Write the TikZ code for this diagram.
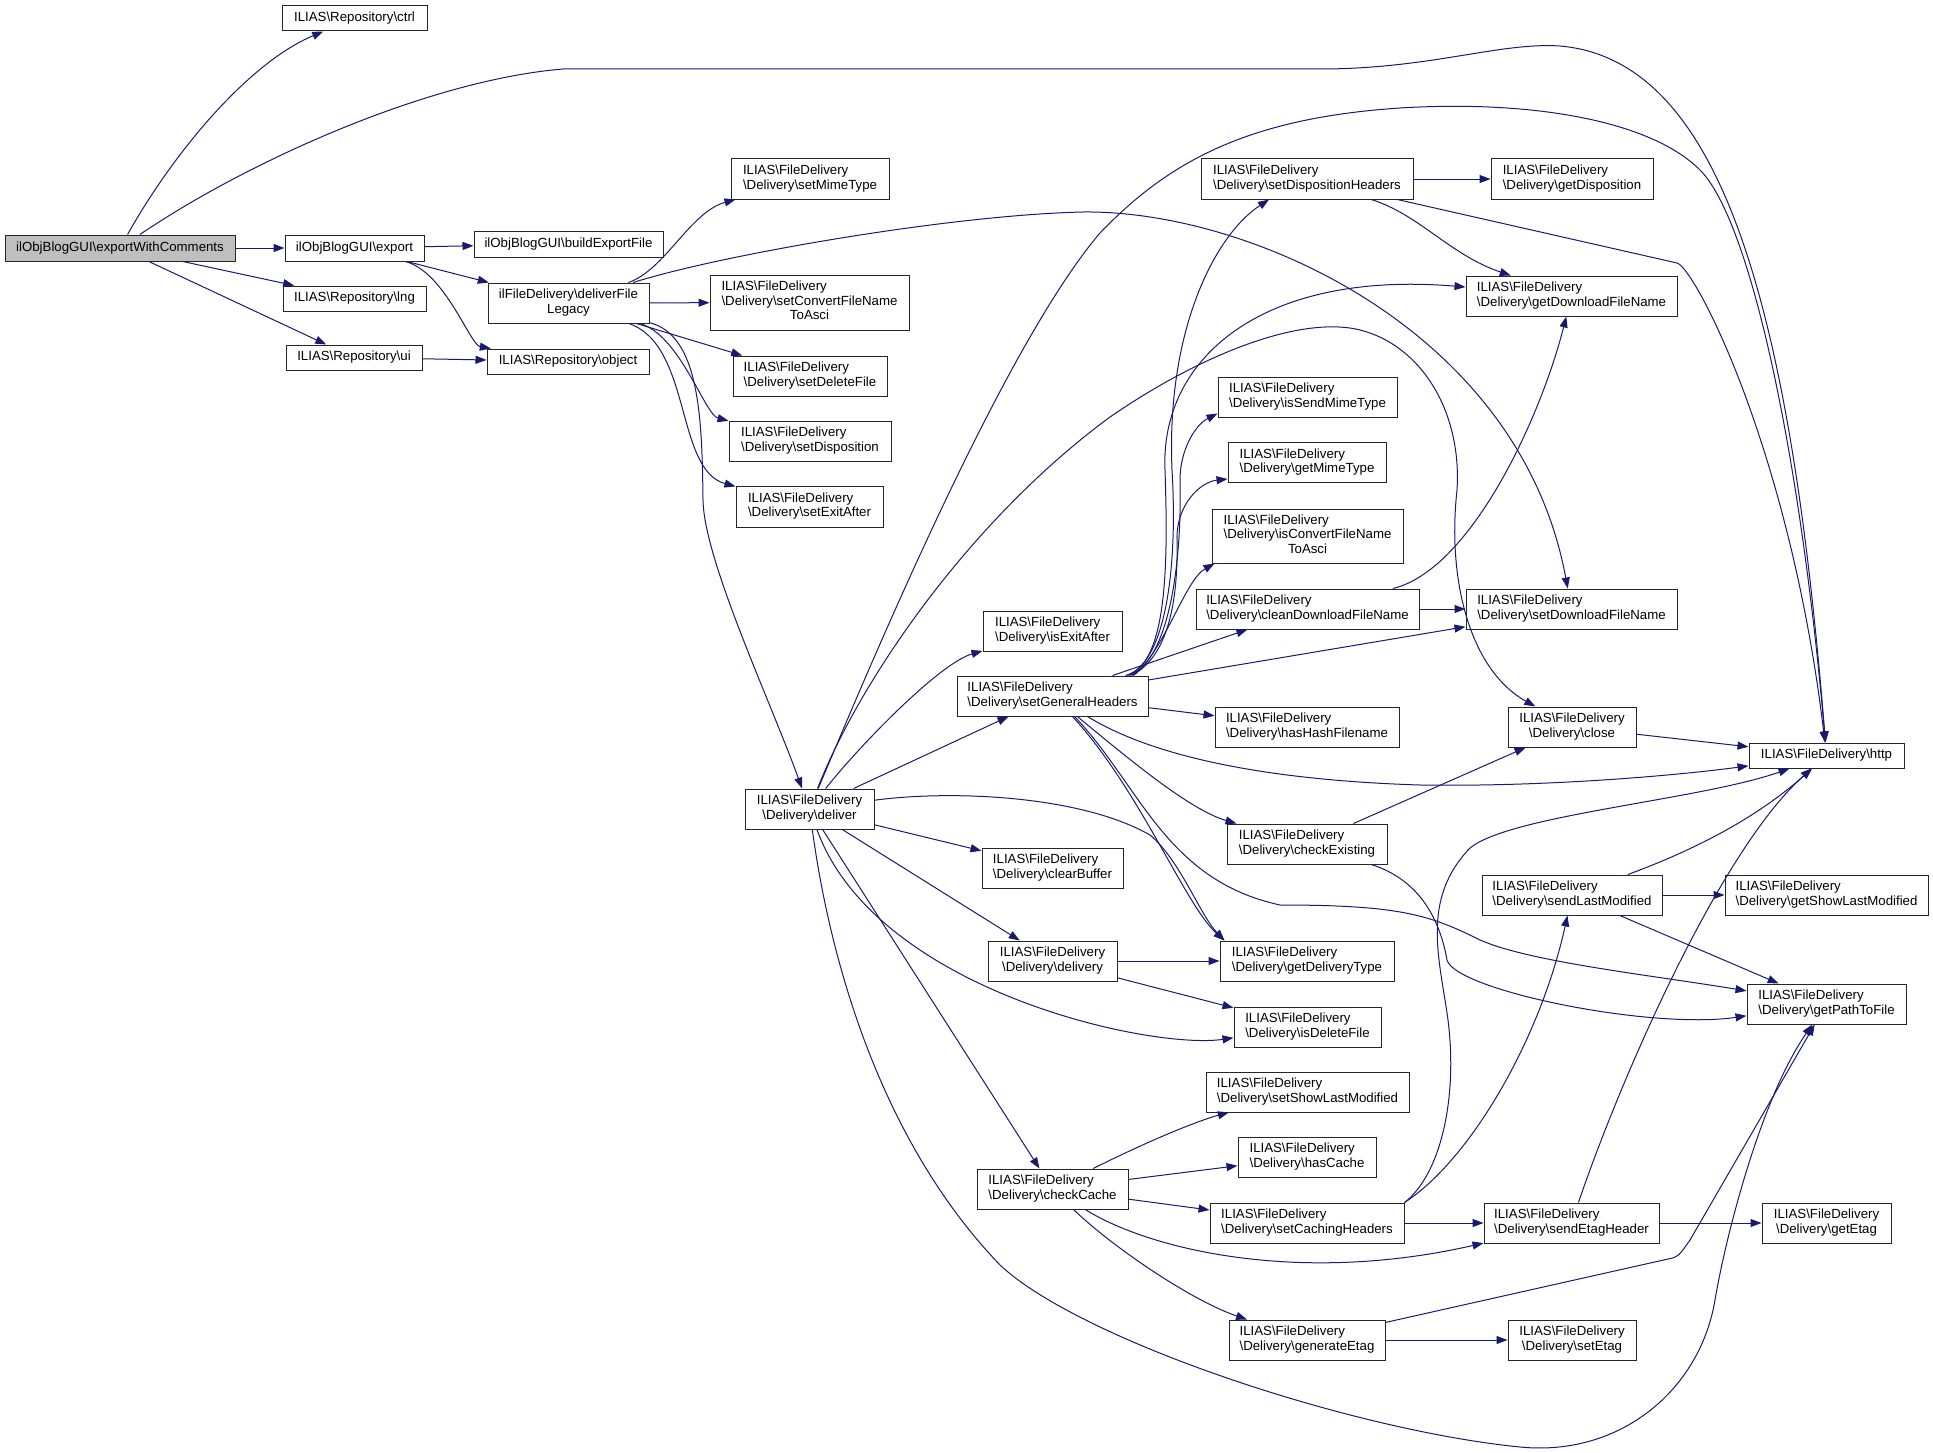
\documentclass[tikz,border=0pt]{standalone}
\usepackage{fontspec}
\newfontfamily\dxfont{Liberation Sans}
\usetikzlibrary{arrows.meta}
\definecolor{edgeblue}{HTML}{191970}
\definecolor{rootgray}{HTML}{BFBFBF}
\newcommand{\dxbs}{\textbackslash}
\newcommand{\fdlabel}[1]{\begin{tabular}{@{}l@{}}ILIAS\dxbs FileDelivery\\\multicolumn{1}{@{}c@{}}{\dxbs Delivery\dxbs #1}\end{tabular}}
\begin{document}
\begin{tikzpicture}[x=1pt, y=-1pt,
    fn/.style={draw=black!85, line width=1pt, fill=white, inner sep=0pt,
        font=\dxfont\fontsize{13.25}{14.5}\selectfont},
    sz/.style 2 args={minimum width=#1, minimum height=#2},
    callarrow/.style={draw=edgeblue, line width=1pt, -{Triangle[length=11pt,width=8pt]}}]
    \useasboundingbox (0,0) rectangle (1933,1453);
    \node[fn, fill=rootgray, sz={230}{26}] (exportwc) at (120,248) {ilObjBlogGUI\dxbs exportWithComments};
    \node[fn, sz={145}{25}] (ctrl) at (354.5,18.5) {ILIAS\dxbs Repository\dxbs ctrl};
    \node[fn, sz={139}{26}] (export) at (354.5,248) {ilObjBlogGUI\dxbs export};
    \node[fn, sz={143}{25}] (lng) at (354.5,298.5) {ILIAS\dxbs Repository\dxbs lng};
    \node[fn, sz={136}{25}] (ui) at (354,357.5) {ILIAS\dxbs Repository\dxbs ui};
    \node[fn, sz={189}{26}] (buildexp) at (568.5,244) {ilObjBlogGUI\dxbs buildExportFile};
    \node[fn, sz={161}{40}] (legacy) at (568.5,303) {\begin{tabular}{@{}l@{}}ilFileDelivery\dxbs deliverFile\\\multicolumn{1}{@{}c@{}}{Legacy}\end{tabular}};
    \node[fn, sz={162}{25}] (object) at (568,361.5) {ILIAS\dxbs Repository\dxbs object};
    \node[fn, sz={158}{40}] (setmime) at (810,179) {\fdlabel{setMimeType}};
    \node[fn, sz={199}{55}] (setconv) at (809.5,302.5) {\begin{tabular}{@{}l@{}}ILIAS\dxbs FileDelivery\\\dxbs Delivery\dxbs setConvertFileName\\\multicolumn{1}{@{}c@{}}{ToAsci}\end{tabular}};
    \node[fn, sz={154}{40}] (setdel) at (810,376) {\fdlabel{setDeleteFile}};
    \node[fn, sz={162}{40}] (setdisp) at (810,441) {\fdlabel{setDisposition}};
    \node[fn, sz={147}{41}] (setexit) at (809.5,506.5) {\fdlabel{setExitAfter}};
    \node[fn, sz={129}{40}] (deliver) at (809.5,809) {\fdlabel{deliver}};
    \node[fn, sz={139}{40}] (isexit) at (1052.5,631) {\fdlabel{isExitAfter}};
    \node[fn, sz={191}{40}] (setgen) at (1052.5,696) {\fdlabel{setGeneralHeaders}};
    \node[fn, sz={141}{40}] (clearbuf) at (1052.5,868) {\fdlabel{clearBuffer}};
    \node[fn, sz={129}{40}] (delivery) at (1052.5,961) {\fdlabel{delivery}};
    \node[fn, sz={151}{40}] (checkcache) at (1052.5,1189) {\fdlabel{checkCache}};
    \node[fn, sz={212}{40}] (setdisph) at (1307,179) {\fdlabel{setDispositionHeaders}};
    \node[fn, sz={179}{40}] (issendmime) at (1307.5,397) {\fdlabel{isSendMimeType}};
    \node[fn, sz={158}{40}] (getmime) at (1307,462.5) {\fdlabel{getMimeType}};
    \node[fn, sz={191}{54}] (isconv) at (1307.5,536) {\begin{tabular}{@{}l@{}}ILIAS\dxbs FileDelivery\\\dxbs Delivery\dxbs isConvertFileName\\\multicolumn{1}{@{}c@{}}{ToAsci}\end{tabular}};
    \node[fn, sz={223}{40}] (cleandl) at (1307.5,609) {\fdlabel{cleanDownloadFileName}};
    \node[fn, sz={184}{40}] (hashash) at (1307,727) {\fdlabel{hasHashFilename}};
    \node[fn, sz={160}{40}] (checkex) at (1307,844) {\fdlabel{checkExisting}};
    \node[fn, sz={174}{40}] (getdeltype) at (1307,961) {\fdlabel{getDeliveryType}};
    \node[fn, sz={147}{40}] (isdel) at (1307.5,1027) {\fdlabel{isDeleteFile}};
    \node[fn, sz={203}{40}] (setshowlm) at (1307.5,1092) {\fdlabel{setShowLastModified}};
    \node[fn, sz={138}{40}] (hascache) at (1307,1157) {\fdlabel{hasCache}};
    \node[fn, sz={194}{40}] (setcaching) at (1307,1223) {\fdlabel{setCachingHeaders}};
    \node[fn, sz={156}{40}] (genetag) at (1307,1340) {\fdlabel{generateEtag}};
    \node[fn, sz={162}{40}] (getdisp) at (1572,179) {\fdlabel{getDisposition}};
    \node[fn, sz={211}{40}] (getdlname) at (1571.5,296) {\fdlabel{getDownloadFileName}};
    \node[fn, sz={211}{40}] (setdlname) at (1571.5,609) {\fdlabel{setDownloadFileName}};
    \node[fn, sz={128}{40}] (close) at (1572,727) {\fdlabel{close}};
    \node[fn, sz={180}{40}] (sendlm) at (1572,895) {\fdlabel{sendLastModified}};
    \node[fn, sz={175}{40}] (sendetag) at (1571.5,1223) {\fdlabel{sendEtagHeader}};
    \node[fn, sz={128}{40}] (setetag) at (1572,1340) {\fdlabel{setEtag}};
    \node[fn, sz={155}{25}] (http) at (1826.5,755.5) {ILIAS\dxbs FileDelivery\dxbs http};
    \node[fn, sz={203}{40}] (getshowlm) at (1826.5,895) {\fdlabel{getShowLastModified}};
    \node[fn, sz={159}{40}] (getpath) at (1826.5,1004) {\fdlabel{getPathToFile}};
    \node[fn, sz={129}{40}] (getetag) at (1826.5,1223) {\fdlabel{getEtag}};

    \draw[callarrow] (exportwc) .. controls (175,150) and (250,62) .. (ctrl);
    \draw[callarrow] (exportwc) .. controls (250,160) and (430,80) .. (563,69) -- (1320,69)
        .. controls (1430,69) and (1500,42) .. (1560,46) .. controls (1720,60) and (1790,300) .. (http);
    \draw[callarrow] (exportwc) -- (export);
    \draw[callarrow] (exportwc) -- (lng);
    \draw[callarrow] (exportwc) -- (ui);
    \draw[callarrow] (export) -- (buildexp);
    \draw[callarrow] (export) -- (legacy);
    \draw[callarrow] (export) .. controls (445,272) and (470,345) .. (object);
    \draw[callarrow] (ui) -- (object);

    \draw[callarrow] (legacy) .. controls (665,270) and (690,212) .. (setmime);
    \draw[callarrow] (legacy) .. controls (720,255) and (950,215) .. (1083,212)
        .. controls (1250,210) and (1520,330) .. (setdlname);
    \draw[callarrow] (legacy) -- (setconv);
    \draw[callarrow] (legacy) -- (setdel);
    \draw[callarrow] (legacy) .. controls (680,335) and (705,415) .. (setdisp);
    \draw[callarrow] (legacy) .. controls (692,345) and (675,470) .. (setexit);
    \draw[callarrow] (legacy) .. controls (700,335) and (702,420) .. (703,500)
        .. controls (704,560) and (770,700) .. (deliver);

    \draw[callarrow] (deliver) .. controls (860,690) and (1000,350) .. (1100,233)
        .. controls (1170,160) and (1250,118) .. (1400,108) .. controls (1530,100) and (1650,120) .. (1700,170)
        .. controls (1750,220) and (1800,450) .. (http);
    \draw[callarrow] (deliver) .. controls (860,680) and (970,520) .. (1110,417)
        .. controls (1200,355) and (1300,315) .. (1360,330) .. controls (1420,345) and (1462,410) .. (1457,490)
        .. controls (1447,580) and (1470,670) .. (close);
    \draw[callarrow] (deliver) .. controls (860,745) and (940,663) .. (isexit);
    \draw[callarrow] (deliver) -- (setgen);
    \draw[callarrow] (deliver) .. controls (950,790) and (1080,795) .. (1150,835)
        .. controls (1180,860) and (1200,915) .. ([xshift=5]getdeltype.north west);
    \draw[callarrow] (deliver) -- (clearbuf);
    \draw[callarrow] (deliver) -- (delivery);
    \draw[callarrow] (deliver) .. controls (875,990) and (1150,1050) .. (isdel);
    \draw[callarrow] (deliver) -- (checkcache);
    \draw[callarrow] (deliver) .. controls (830,960) and (880,1140) .. (1000,1265)
        .. controls (1080,1340) and (1350,1430) .. (1520,1447) .. controls (1620,1457) and (1700,1390) .. (1715,1300)
        .. controls (1725,1240) and (1760,1100) .. (getpath);

    \draw[callarrow] ([xshift=73]setgen.north) .. controls (1165,665) and (1178,570) .. (1172,470)
        .. controls (1166,330) and (1215,235) .. ([xshift=-38]setdisph.south);
    \draw[callarrow] ([xshift=75]setgen.north) .. controls (1168,662) and (1168,560) .. (1165,470)
        .. controls (1160,360) and (1260,270) .. ([yshift=9]getdlname.west);
    \draw[callarrow] ([xshift=77]setgen.north) .. controls (1170,660) and (1182,560) .. (1180,480)
        .. controls (1180,450) and (1195,425) .. ([yshift=4]issendmime.south west);
    \draw[callarrow] ([xshift=79]setgen.north) .. controls (1172,655) and (1178,590) .. (1177,540)
        .. controls (1176,505) and (1200,482) .. ([yshift=4]getmime.south west);
    \draw[callarrow] ([xshift=81]setgen.north) .. controls (1165,650) and (1185,580) .. ([xshift=3]isconv.south west);
    \draw[callarrow] (setgen) -- (cleandl);
    \draw[callarrow] (setgen) -- (setdlname);
    \draw[callarrow] (setgen) -- (hashash);
    \draw[callarrow] ([xshift=35]setgen.south) .. controls (1150,755) and (1260,780) .. (1420,785)
        .. controls (1550,787) and (1680,775) .. (http);
    \draw[callarrow] (setgen) .. controls (1130,760) and (1190,810) .. (checkex);
    \draw[callarrow] ([xshift=20]setgen.south) .. controls (1140,790) and (1185,905) .. ([xshift=5]getdeltype.north west);
    \draw[callarrow] ([xshift=22]setgen.south) .. controls (1140,785) and (1165,880) .. (1280,905)
        .. controls (1400,905) and (1430,915) .. (1480,940) .. controls (1530,962) and (1650,975) .. (getpath);

    \draw[callarrow] (setdisph) -- (getdisp);
    \draw[callarrow] (setdisph) .. controls (1420,215) and (1450,255) .. (getdlname);
    \draw[callarrow] (setdisph) -- (1677,263) .. controls (1695,268) and (1790,450) .. (http);
    \draw[callarrow] (cleandl) -- (setdlname);
    \draw[callarrow] (cleandl) .. controls (1470,570) and (1540,420) .. (getdlname);
    \draw[callarrow] (checkex) -- (close);
    \draw[callarrow] (checkex) .. controls (1420,880) and (1440,920) .. (1447,960)
        .. controls (1455,990) and (1650,1030) .. (getpath);
    \draw[callarrow] (close) -- (http);
    \draw[callarrow] (delivery) -- (getdeltype);
    \draw[callarrow] (delivery) -- (isdel);

    \draw[callarrow] (checkcache) .. controls (1150,1140) and (1200,1120) .. (setshowlm);
    \draw[callarrow] (checkcache) -- (hascache);
    \draw[callarrow] (checkcache) -- (setcaching);
    \draw[callarrow] (checkcache) .. controls (1150,1250) and (1300,1285) .. (sendetag);
    \draw[callarrow] (checkcache) .. controls (1110,1245) and (1190,1300) .. (genetag);
    \draw[callarrow] (setcaching.north east) .. controls (1470,1160) and (1540,1040) .. (sendlm);
    \draw[callarrow] (setcaching.north east) .. controls (1440,1175) and (1458,1100) .. (1448,1020)
        .. controls (1440,960) and (1420,900) .. (1470,848) .. controls (1510,815) and (1700,800) .. (http);
    \draw[callarrow] (setcaching) -- (sendetag);
    \draw[callarrow] (sendlm) -- (getshowlm);
    \draw[callarrow] (sendlm) .. controls (1700,848) and (1760,815) .. (http);
    \draw[callarrow] (sendlm) -- (getpath);
    \draw[callarrow] (sendetag) -- (getetag);
    \draw[callarrow] (sendetag) .. controls (1620,1080) and (1720,850) .. (http);
    \draw[callarrow] (genetag) -- (setetag);
    \draw[callarrow] (genetag) -- (1668,1259) .. controls (1678,1257) .. (1690,1240) -- (getpath);
\end{tikzpicture}
\end{document}
